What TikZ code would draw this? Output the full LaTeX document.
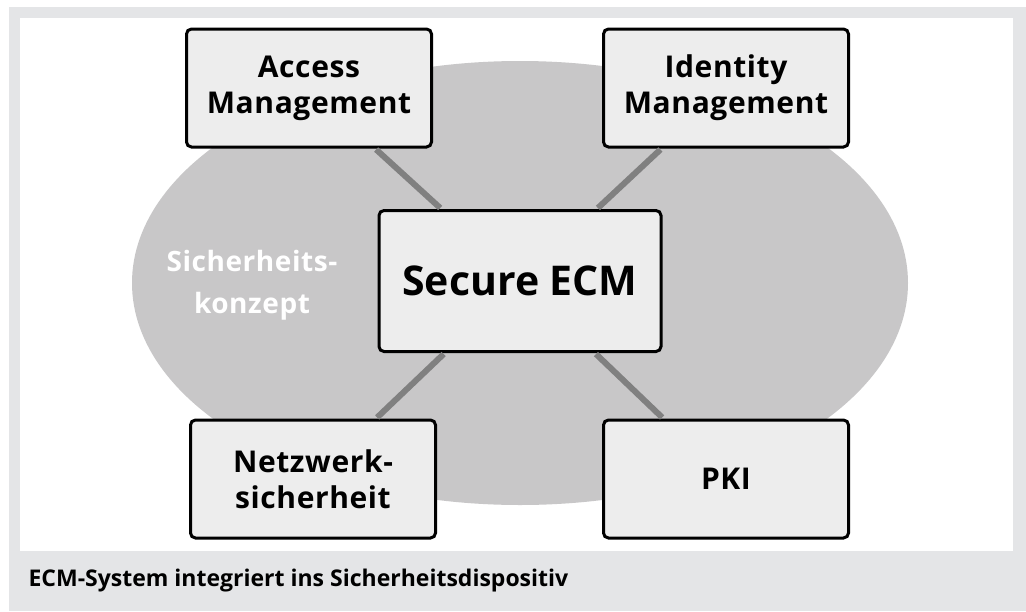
\documentclass[tikz,border=0pt]{standalone}
\usepackage{fontspec}
\setmainfont{Open Sans}
\usetikzlibrary{positioning}
\definecolor{rahmengrau}{HTML}{E4E5E7}
\definecolor{ovalgrau}{HTML}{C8C7C8}
\definecolor{boxgrau}{HTML}{EDEDED}
\definecolor{liniengrau}{HTML}{808080}

\begin{document}
\begin{tikzpicture}[x=1pt, y=-1pt,
    modul/.style={draw=black, line width=3pt, rounded corners=5pt, fill=boxgrau,
      minimum width=245pt, minimum height=118pt, align=center, inner sep=0pt,
      font=\fontsize{30}{36}\selectfont\bfseries\addfontfeature{LetterSpace=2}},
    verbindung/.style={draw=liniengrau, line width=6pt, shorten <=1.5pt, shorten >=1.5pt}]
    \useasboundingbox (0,0) rectangle (1026,611);
    \fill [white] (0,0) rectangle (1026,611);
    \fill [rahmengrau] (9,7) rectangle (1026,611);
    \fill [white] (20,18) rectangle (1013,551);

    % Sicherheitskonzept
    \fill [ovalgrau] (520,283) ellipse [x radius=388pt, y radius=222pt];
    \node [white, align=center, font=\fontsize{28}{42}\selectfont\bfseries\addfontfeature{LetterSpace=2}] (konzept) at (252,285) {Sicherheits-\\konzept};

    \node [modul] (access) at (309,88) {Access\\Management};
    \node [modul] (identity) at (726,88) {Identity\\Management};
    \node [modul] (netz) at (313,479) {Netzwerk-\\sicherheit};
    \node [modul] (pki) at (726,479) {PKI};
    \node [modul, minimum width=282pt, minimum height=141pt, font=\fontsize{41}{48}\selectfont\bfseries] (ecm) at (520,281) {Secure ECM};

    \foreach \ziel in {access, identity, netz, pki} {
      \draw [verbindung] (ecm) -- (\ziel);
    }

    \node [anchor=base west, font=\fontsize{23}{28}\selectfont\bfseries] (titel) at (25,586) {ECM-System integriert ins Sicherheitsdispositiv};
  \end{tikzpicture}
\end{document}
